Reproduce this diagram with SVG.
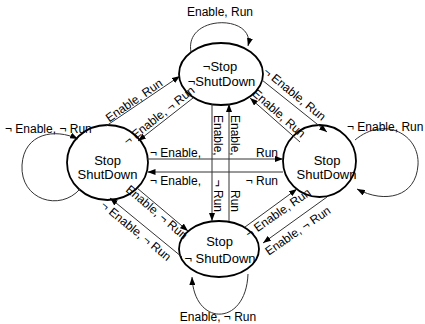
<svg xmlns="http://www.w3.org/2000/svg" width="425" height="324" viewBox="0 0 425 324">
<defs>
<marker id="ah" viewBox="0 0 8 6" refX="8" refY="3" markerWidth="8" markerHeight="6" markerUnits="userSpaceOnUse" orient="auto"><path d="M0,0 L8,3 L0,6 z" fill="#000"/></marker>
</defs>
<style>
.node ellipse{fill:#fff;stroke:#000;stroke-width:1.8}
.node text{font-family:"Liberation Sans",Arial,sans-serif;font-size:13px;text-anchor:middle;fill:#000}
.edge{fill:none;stroke:#333;stroke-width:1;marker-end:url(#ah)}
.lbl{font-family:"Liberation Sans",Arial,sans-serif;font-size:12px;fill:#000}
.m{text-anchor:middle}
.e{text-anchor:end}
</style>
<rect width="425" height="324" fill="#fff"/>
<g id="node-top" class="node">
<ellipse cx="221" cy="74" rx="42" ry="31"/>
<text x="220" y="71">¬Stop</text>
<text x="221.5" y="86">¬ShutDown</text>
</g>
<g id="node-left" class="node">
<ellipse cx="107.5" cy="162.5" rx="40.5" ry="37.5"/>
<text x="107.5" y="164.5">Stop</text>
<text x="107.5" y="179">ShutDown</text>
</g>
<g id="node-right" class="node">
<ellipse cx="319.5" cy="161" rx="36.5" ry="36"/>
<text x="327" y="164.5">Stop</text>
<text x="326.5" y="179">ShutDown</text>
</g>
<g id="node-bottom" class="node">
<ellipse cx="219" cy="249" rx="40" ry="28"/>
<text x="219.5" y="246">Stop</text>
<text x="220" y="263">¬ ShutDown</text>
</g>
<g id="connectors">
<path class="edge" d="M191,52 C184,14 256,14 248,46"/>
<text class="lbl m" x="220" y="15.5">Enable, Run</text>
<path class="edge" d="M80,189 C60,212 20,200 22,165 C24,133 55,128 78,139"/>
<text class="lbl" x="5" y="133">¬ Enable, ¬ Run</text>
<path class="edge" d="M355,140 C385,115 420,135 418,165 C416,197 385,204 357,189"/>
<text class="lbl" x="347" y="131">¬ Enable, Run</text>
<path class="edge" d="M248,274 C246,327 194,327 192,277"/>
<text class="lbl m" x="218" y="321">Enable, ¬ Run</text>

<path class="edge" d="M147,159 L283,159"/>
<path class="edge" d="M283,172 L147.5,172"/>
<text class="lbl" x="150" y="157">¬ Enable,</text>
<text class="lbl e" x="278" y="157">Run</text>
<text class="lbl" x="150" y="185">¬ Enable,</text>
<text class="lbl e" x="278" y="185">¬ Run</text>

<path class="edge" d="M212,104 L212,221"/>
<path class="edge" d="M229,221 L229,104"/>
<text class="lbl" transform="translate(214,115) rotate(90)">Enable,</text>
<text class="lbl e" transform="translate(214,212) rotate(90)">¬ Run</text>
<text class="lbl" transform="translate(231,115) rotate(90)">Enable,</text>
<text class="lbl e" transform="translate(231,212) rotate(90)">Run</text>

<path class="edge" d="M106,126 L180,76"/>
<text class="lbl m" transform="translate(137.5,105.3) rotate(-34.6)" y="-2">Enable, Run</text>
<path class="edge" d="M193,98 L138,141"/>
<text class="lbl m" transform="translate(163.4,121.1) rotate(-38.4)" y="-3">¬ Enable, ¬ Run</text>
<path class="edge" d="M262,80 L327,132"/>
<text class="lbl m" transform="translate(288.9,100.9) rotate(39.2)" y="-5">¬ Enable, Run</text>
<path class="edge" d="M300,142 L250,98"/>
<text class="lbl m" transform="translate(274,119) rotate(41.3)" y="-3.5">Enable, Run</text>
<path class="edge" d="M137,188 L188,231"/>
<text class="lbl m" transform="translate(160.6,207.7) rotate(40.3)" y="10">Enable, ¬ Run</text>
<path class="edge" d="M182,257 L110,198"/>
<text class="lbl m" transform="translate(141.7,224) rotate(39.3)" y="13">¬ Enable, ¬ Run</text>
<path class="edge" d="M245,227 L297,189"/>
<text class="lbl m" transform="translate(273,205.8) rotate(-35)" y="12.8">¬ Enable, Run</text>
<path class="edge" d="M327,197 L263,243"/>
<text class="lbl m" transform="translate(292.8,223.4) rotate(-34.7)" y="13">Enable, ¬ Run</text>
</g>
</svg>
